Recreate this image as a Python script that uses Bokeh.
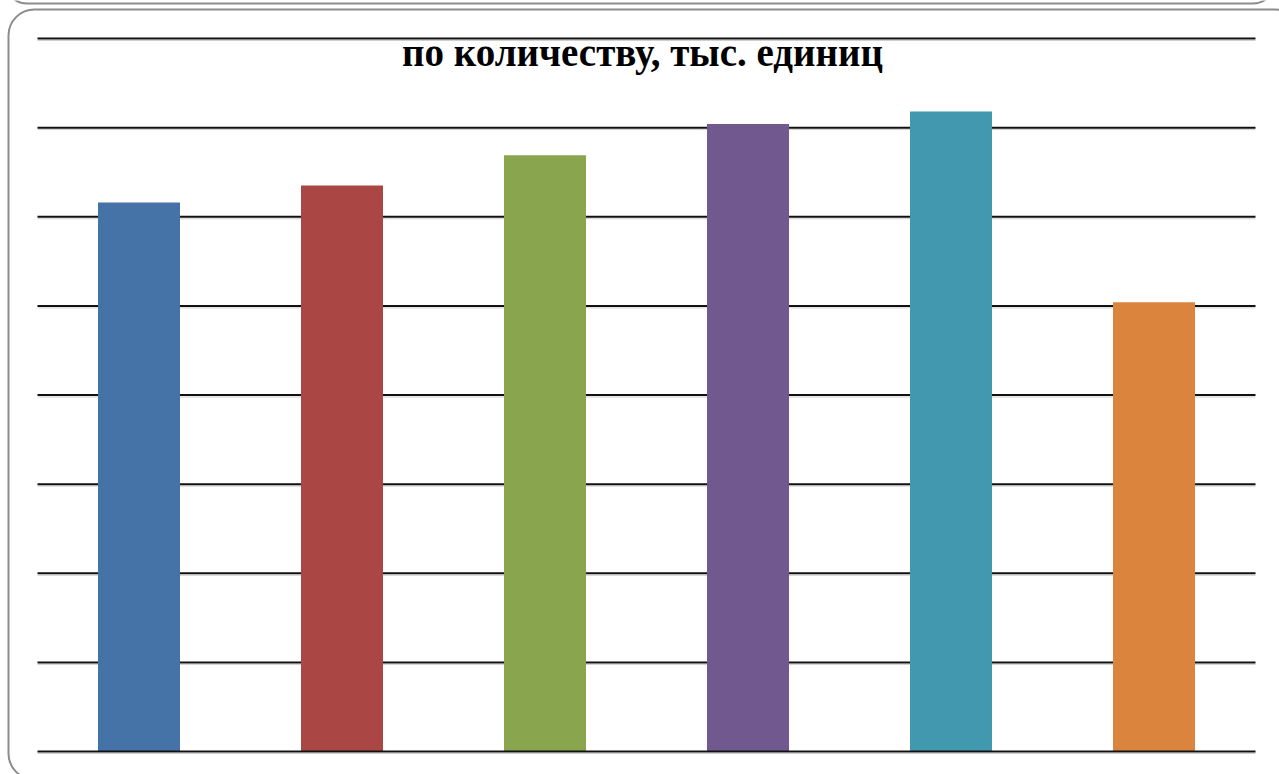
from bokeh.plotting import figure
from bokeh.models import Range1d, BoxAnnotation, ColumnDataSource
from bokeh.embed import file_html
from bokeh.resources import INLINE
from bokeh.core.properties import value

# ---- data ----
title_text = "по количеству, тыс. единиц"
categories = ["1", "2", "3", "4", "5", "6"]
values = [616, 635, 669, 704, 718, 504]
colors = ["#4573A7", "#AA4643", "#89A54E", "#71588F", "#4198AF", "#DB843D"]
grid_ticks = [0, 100, 200, 300, 400, 500, 600, 700, 800]

W, H = 1279, 774
# plot area in pixels
PX_L, PX_R, PX_T, PX_B = 37, 1255, 38, 751
n = len(categories)
sx = (PX_R - PX_L) / n                 # px per category
sy = (PX_B - PX_T) / (grid_ticks[-1] - grid_ticks[0])  # px per unit

def dx(px):
    return (px - PX_L) / sx

def dy(py):
    return (PX_B - py) / sy

p = figure(width=W, height=H, output_backend="svg", toolbar_location=None,
           x_range=Range1d(dx(0), dx(W)), y_range=Range1d(dy(H), dy(0)),
           x_axis_type=None, y_axis_type=None, min_border=0)
p.outline_line_color = None
p.grid.visible = False
p.background_fill_color = "white"
p.border_fill_color = "white"

# rounded frames
p.add_layout(BoxAnnotation(left=dx(5), right=dx(1274), top=dy(-40), bottom=dy(3),
                           fill_color=None, fill_alpha=0, line_color="#8c8c8c",
                           line_alpha=1, line_width=2, border_radius=25))
p.add_layout(BoxAnnotation(left=dx(8), right=dx(1300), top=dy(9), bottom=dy(779),
                           fill_color=None, fill_alpha=0, line_color="#8c8c8c",
                           line_alpha=1, line_width=2, border_radius=26))

# grid lines (with faint shadow)
shadow = [t - 2 / sy for t in grid_ticks]
p.segment(x0=0, x1=n, y0=shadow, y1=shadow, line_color="#cfcfcf", line_width=1)
p.segment(x0=0, x1=n, y0=grid_ticks[1:], y1=grid_ticks[1:], line_color="#111111", line_width=2)

# bars
xs = [i + 0.5 for i in range(n)]
src = ColumnDataSource(dict(x=xs, top=values, color=colors))
p.vbar(x="x", top="top", bottom=0, width=82 / sx, fill_color="color",
       line_color=None, source=src)

# baseline on top of bars
p.segment(x0=0, x1=n, y0=grid_ticks[0], y1=grid_ticks[0], line_color="#111111", line_width=2)

# title
p.text(x=[dx(642)], y=[dy(52)], text=[title_text], text_align="center",
       text_baseline="alphabetic", text_font=value("Liberation Serif"),
       text_font_size="39px", text_font_style="bold", text_color="black")

open("out.html", "w").write(file_html(p, INLINE))
